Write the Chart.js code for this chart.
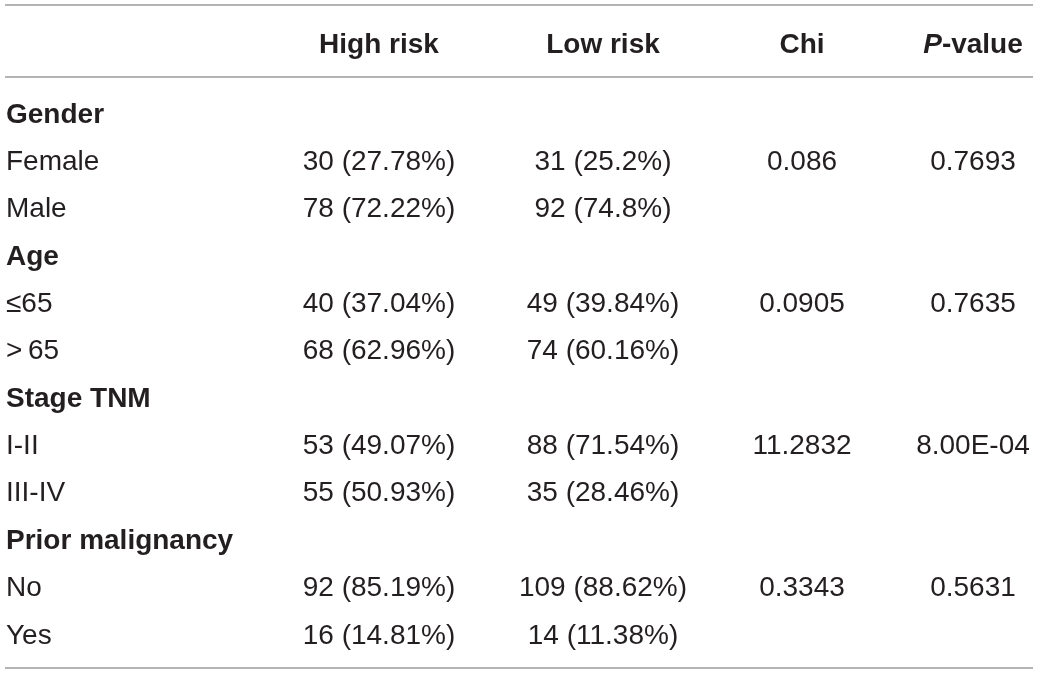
<!DOCTYPE html>
<html>
<head>
<meta charset="utf-8">
<script src="https://cdn.jsdelivr.net/npm/chart.js@4"></script>
<style>
  html, body { margin: 0; padding: 0; background: #fff; }
  #wrap { width: 1040px; height: 674px; position: relative; }
</style>
</head>
<body>
<div id="wrap"><canvas id="chart"></canvas></div>
<script>
'use strict';
// table content
var headers = ['', 'High risk', 'Low risk', 'Chi', 'P-value'];
var categories = ['Gender', 'Age', 'Stage TNM', 'Prior malignancy'];
var levels = [['Female', 'Male'], ['\u226465', '>\u200965'], ['I-II', 'III-IV'], ['No', 'Yes']];
var highN = [30, 78, 40, 68, 53, 55, 92, 16];
var highPct = [27.78, 72.22, 37.04, 62.96, 49.07, 50.93, 85.19, 14.81];
var lowN = [31, 92, 49, 74, 88, 35, 109, 14];
var lowPct = [25.2, 74.8, 39.84, 60.16, 71.54, 28.46, 88.62, 11.38];
var chi = [0.086, 0.0905, 11.2832, 0.3343];
var pValues = ['0.7693', '0.7635', '8.00E-04', '0.5631'];

// layout (pixels across, row units down)
var colX = [6, 379, 603, 802, 973];
var headerRow = -1.476;
var rules = [-2.483, -0.963, 11.516];
var textColor = '#231f20';
var ruleColor = '#9b9b9b';
var fontFamily = '"Liberation Sans", Arial, Helvetica, sans-serif';
var fontSize = 28;

// build one dataset per column, points sit on row indices
var cols = [[], [], [], [], []];
categories.forEach(function(cat, g) {
    var r = g * 3;
    cols[0].push({ y: r, text: cat, bold: true });
    levels[g].forEach(function(lv, k) {
        var i = g * 2 + k;
        cols[0].push({ y: r + 1 + k, text: lv, bold: false });
        cols[1].push({ y: r + 1 + k, text: highN[i] + ' (' + highPct[i] + '%)' });
        cols[2].push({ y: r + 1 + k, text: lowN[i] + ' (' + lowPct[i] + '%)' });
    });
    cols[3].push({ y: r + 1, text: String(chi[g]) });
    cols[4].push({ y: r + 1, text: pValues[g] });
});

var datasets = cols.map(function(list, c) {
    return {
        data: list.map(function(p) { return { x: colX[c], y: p.y }; }),
        texts: list.map(function(p) { return p.text; }),
        bolds: list.map(function(p) { return !!p.bold; }),
        align: c === 0 ? 'left' : 'center',
        pointRadius: 0
    };
});
// header row
datasets.push({
    data: colX.map(function(x) { return { x: x, y: headerRow }; }),
    texts: headers,
    bolds: headers.map(function() { return true; }),
    align: 'center',
    header: true,
    pointRadius: 0
});

var tablePlugin = {
    id: 'tableText',
    beforeDatasetsDraw: function(chart) {
        var ctx = chart.ctx, ys = chart.scales.y, xs = chart.scales.x;
        ctx.save();
        ctx.strokeStyle = ruleColor;
        ctx.lineWidth = 1.5;
        rules.forEach(function(r) {
            var y = ys.getPixelForValue(r);
            ctx.beginPath();
            ctx.moveTo(xs.getPixelForValue(5), y);
            ctx.lineTo(xs.getPixelForValue(1033), y);
            ctx.stroke();
        });
        ctx.restore();
    },
    afterDatasetsDraw: function(chart) {
        var ctx = chart.ctx;
        ctx.save();
        ctx.fillStyle = textColor;
        ctx.textBaseline = 'alphabetic';
        chart.data.datasets.forEach(function(ds, i) {
            var meta = chart.getDatasetMeta(i);
            meta.data.forEach(function(pt, j) {
                var txt = ds.texts[j];
                if (!txt) return;
                var weight = ds.bolds[j] ? 'bold ' : '';
                if (ds.header && txt === 'P-value') {
                    // italic P, then the rest
                    var fi = 'italic bold ' + fontSize + 'px ' + fontFamily;
                    var fb = 'bold ' + fontSize + 'px ' + fontFamily;
                    ctx.font = fi;
                    var w1 = ctx.measureText('P').width;
                    ctx.font = fb;
                    var w2 = ctx.measureText('-value').width;
                    var x0 = pt.x - (w1 + w2) / 2;
                    ctx.textAlign = 'left';
                    ctx.font = fi;
                    ctx.fillText('P', x0, pt.y);
                    ctx.font = fb;
                    ctx.fillText('-value', x0 + w1, pt.y);
                    return;
                }
                ctx.font = weight + fontSize + 'px ' + fontFamily;
                ctx.textAlign = ds.align;
                ctx.fillText(txt, pt.x, pt.y);
            });
        });
        ctx.restore();
    }
};

var ctx = document.getElementById('chart').getContext('2d');
var chart = new Chart(ctx, {
    type: 'scatter',
    data: { datasets: datasets },
    options: {
        responsive: true,
        maintainAspectRatio: false,
        animation: false,
        layout: { padding: 0 },
        plugins: { legend: { display: false }, tooltip: { enabled: false } },
        scales: {
            x: { type: 'linear', min: 0, max: 1040, display: false },
            y: { type: 'linear', min: -2.589, max: 11.643, reverse: true, display: false }
        }
    },
    plugins: [tablePlugin]
});
</script>
</body>
</html>
